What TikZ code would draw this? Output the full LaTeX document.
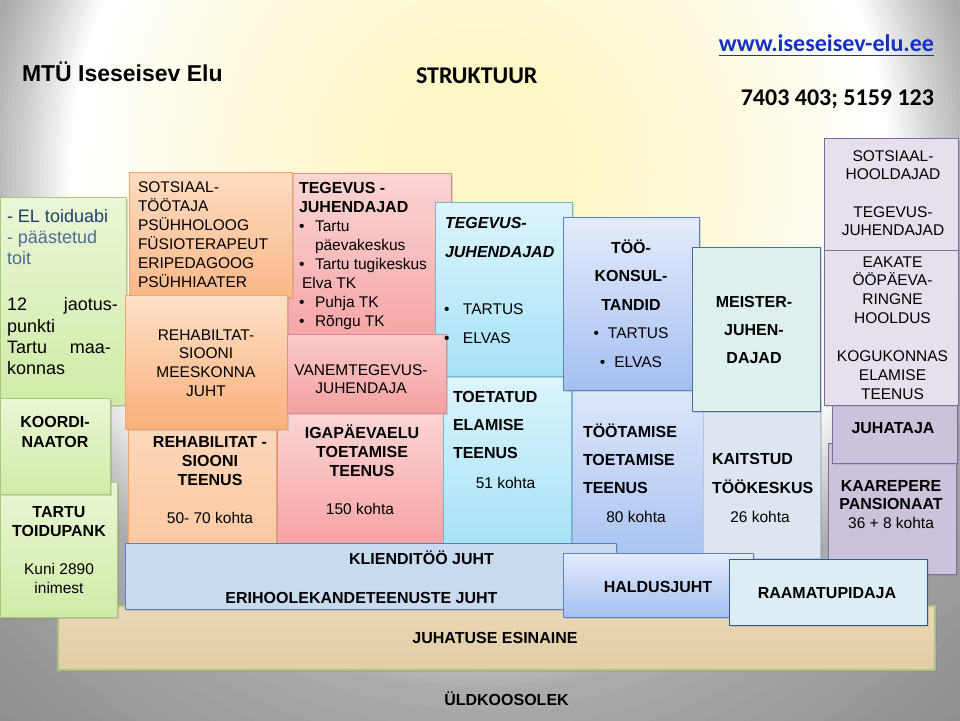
\documentclass[tikz,border=0pt]{standalone}
\usepackage{fontspec}
\setmainfont{Liberation Sans}
\newfontfamily\calfont{Carlito}
\usetikzlibrary{shadows}
% background
\definecolor{bgA}{HTML}{FDF6C6}
\definecolor{bgB}{HTML}{FEFBE2}
\definecolor{bgC}{HTML}{FFFFFF}
\definecolor{bgD}{HTML}{D2D2D2}
\definecolor{bgE}{HTML}{ACACAC}
\definecolor{bgF}{HTML}{8E8E8E}
% box colours
\definecolor{grT}{HTML}{EAF6D6}\definecolor{grBot}{HTML}{D0EBA6}\definecolor{grB}{HTML}{A9C77A}
\definecolor{orT}{HTML}{FDDCC2}\definecolor{orBot}{HTML}{FAB888}\definecolor{orB}{HTML}{F2A56B}
\definecolor{or2T}{HTML}{FDE0C8}\definecolor{or2Bot}{HTML}{F9B07A}
\definecolor{or3T}{HTML}{FDDDC4}\definecolor{or3Bot}{HTML}{FBC9A2}
\definecolor{rdT}{HTML}{FBD5D5}\definecolor{rdBot}{HTML}{F6A3A3}\definecolor{rdB}{HTML}{D88E8C}
\definecolor{rd2T}{HTML}{FBCACA}\definecolor{rd2Bot}{HTML}{F4A0A0}
\definecolor{rd3T}{HTML}{FCDCDC}\definecolor{rd3Bot}{HTML}{F6A2A2}
\definecolor{cyT}{HTML}{DDF4FC}\definecolor{cyBot}{HTML}{A6E2F6}\definecolor{cyB}{HTML}{6DB7D0}
\definecolor{blT}{HTML}{E4EBFB}\definecolor{blBot}{HTML}{A4BFF2}\definecolor{blB}{HTML}{5A83BF}
\definecolor{bl2T}{HTML}{DFE7FA}\definecolor{bl2Bot}{HTML}{ABC4F2}\definecolor{bl2B}{HTML}{8FAEDC}
\definecolor{klF}{HTML}{C8DAF0}\definecolor{klB}{HTML}{5B82B8}
\definecolor{meF}{HTML}{DDF0EE}\definecolor{meB}{HTML}{4A6F96}
\definecolor{kaF}{HTML}{DDE6F0}\definecolor{kaB}{HTML}{B4C6DC}
\definecolor{lv1}{HTML}{E5E0EC}\definecolor{lv2}{HTML}{CDC2DB}\definecolor{lvB}{HTML}{7A6EA3}
\definecolor{raF}{HTML}{DCEEF4}\definecolor{raB}{HTML}{2F5B8C}
\definecolor{beT}{HTML}{EAD8B5}\definecolor{beBot}{HTML}{E2CDA4}\definecolor{beB}{HTML}{A9C47F}
\definecolor{elA}{HTML}{1F3F6E}\definecolor{elB}{HTML}{4A6C96}
\definecolor{urlc}{HTML}{1530C8}
% helpers
\newcommand\fst{\rule{0pt}{15pt}}
\newcommand\bul{\makebox[16pt][l]{\textbullet}}
\newcommand\BX[6]{\node[bx,#6,minimum width={(#4-#2)*1pt},minimum height={(#5-#3)*1pt}] (#1) at (#2,#3) {};}
% concentric ellipses: f start, f end, steps, colour at start, colour at end
\newcommand\ring[5]{%
  \foreach \k in {0,...,#3}{%
    \pgfmathsetmacro\ff{#1+(#2-#1)*\k/#3}%
    \pgfmathsetmacro\pp{100*\k/#3}%
    \fill[#5!\pp!#4] (480,170) ellipse [x radius=\ff*500pt, y radius=\ff*520pt];}}
\tikzset{
  bx/.style={draw, line width=0.9pt, inner sep=0pt, outer sep=0pt, anchor=north west,
    drop shadow={shadow xshift=2pt, shadow yshift=-2pt, opacity=0.28}},
  tx/.style={inner sep=0pt, outer sep=0pt, text=black},
  rg/.style={tx, font=\fontsize{15.5}{19}\selectfont},
  bd/.style={tx, font=\fontsize{16}{19}\selectfont\bfseries},
}
\begin{document}
\begin{tikzpicture}[x=1pt,y=-1pt]
\useasboundingbox (0,0) rectangle (960,720);
\begin{scope}
  \clip (0,0) rectangle (960,720);
  \fill[bgF] (0,0) rectangle (960,720);
  \ring{1.45}{1.0}{12}{bgF}{bgE}
  \ring{1.0}{0.91}{10}{bgE}{bgD}
  \ring{0.91}{0.82}{12}{bgD}{bgC}
  \ring{0.82}{0.56}{12}{bgC}{bgB}
  \ring{0.56}{0.2}{10}{bgB}{bgA}
\end{scope}

% ---------- base ----------
\BX{esinaine}{58}{606}{935}{670}{draw=beB, line width=1.3pt, top color=beT, bottom color=beBot}

% ---------- service columns ----------
\BX{rehabT}{128}{380}{276}{545}{draw=orB, top color=or3T, bottom color=or3Bot}
\BX{igap}{277}{395}{443}{545}{draw=rdB, top color=rd3T, bottom color=rd3Bot}
\BX{toet}{443}{376}{571}{545}{draw=cyB, top color=cyT, bottom color=cyBot}
\BX{tootam}{572}{385}{703}{553}{draw=bl2B, top color=bl2T, bottom color=bl2Bot}
\BX{kaits}{703}{400}{820}{558}{draw=kaB, fill=kaF}
\BX{kaarep}{828}{443}{956}{574}{draw=lvB, fill=lv2}
\BX{juhataja}{832}{405}{957}{463}{draw=lvB, fill=lv2}

% ---------- left green ----------
\BX{el}{0}{197}{126}{405}{draw=grB, top color=grT, bottom color=grBot}
\BX{tartu}{0}{482}{117}{617}{draw=grB, top color=grT, bottom color=grBot}
\BX{koordi}{0}{398}{110}{494}{draw=grB, top color=grT, bottom color=grBot}

% ---------- staff boxes ----------
\BX{tegR}{287}{173}{451}{345}{draw=rdB, top color=rdT, bottom color=rdBot}
\BX{sots}{129}{172}{292}{297}{draw=orB, top color=orT, bottom color=orBot}
\BX{tegB}{435}{202}{572}{376}{draw=cyB, top color=cyT, bottom color=cyBot}
\BX{tookon}{563}{217}{699}{390}{draw=blB, top color=blT, bottom color=blBot}
\BX{meister}{692}{247}{820}{411}{draw=meB, fill=meF}
\BX{sotsH}{824}{138}{958}{252}{draw=lvB, fill=lv1}
\BX{eakate}{824}{250}{958}{405}{draw=lvB, fill=lv1}
\BX{rehabM}{125}{295}{287}{429}{draw=orB, top color=or2T, bottom color=or2Bot}
\BX{vanem}{287}{334}{446}{413}{draw=rdB, top color=rd2T, bottom color=rd2Bot}

% ---------- management ----------
\BX{klient}{125}{543}{616}{609}{draw=klB, fill=klF}
\BX{haldus}{563}{553}{753}{617}{draw=blB, top color=blT, bottom color=blBot}
\BX{raamat}{729}{559}{927}{625}{draw=raB, fill=raF}

% ---------- header ----------
\node[tx, anchor=base west, font=\fontsize{23}{27}\selectfont\bfseries] (title) at (22,81) {MTÜ Iseseisev Elu};
\node[tx, anchor=base west, font=\calfont\fontsize{24}{28}\selectfont\bfseries] (struk) at (416,83) {STRUKTUUR};
\node[tx, anchor=base east, text=urlc, font=\calfont\fontsize{24}{28}\selectfont\bfseries] (url) at (934,51) {www.iseseisev-elu.ee};
\draw[urlc, line width=1.8pt] ([yshift=-4.5pt]url.base west) -- ([yshift=-4.5pt]url.base east);
\node[tx, anchor=base east, font=\calfont\fontsize{24}{28}\selectfont\bfseries] (phone) at (934,105) {7403 403; 5159 123};

% ---------- texts ----------
\node[tx, anchor=north west, align=left, font=\fontsize{18}{21.3}\selectfont] (elT) at (7,207)
  {\fst{\color{elA}- EL toiduabi}\\{\color{elB}- päästetud}\\{\color{elB}toit}\\[25pt]
   \hbox to 111pt{12\hfill jaotus-}\\punkti\\\hbox to 104pt{Tartu\hfill maa-}\\konnas};
\node[bd, anchor=north, align=center, font=\fontsize{16}{20}\selectfont\bfseries] (koordiT) at (55,412) {\fst KOORDI-\\NAATOR};
\node[bd, anchor=north, align=center] (tartuT) at (59,502) {\fst TARTU\\TOIDUPANK};
\node[rg, anchor=north, align=center] (tartuN) at (59,559) {\fst Kuni 2890\\inimest};

\node[rg, anchor=north west, align=left] (sotsT) at (138,177)
  {\fst SOTSIAAL-\\TÖÖTAJA\\PSÜHHOLOOG\\FÜSIOTERAPEUT\\ERIPEDAGOOG\\PSÜHHIAATER};
\node[rg, anchor=north west, align=left] (tegRT) at (299,178)
  {\fst{\fontsize{16}{19}\selectfont\bfseries TEGEVUS -}\\{\fontsize{16}{19}\selectfont\bfseries JUHENDAJAD}\\
   \bul Tartu\\\hspace*{16pt}päevakeskus\\\bul Tartu tugikeskus\\\hspace*{3pt}Elva TK\\\bul Puhja TK\\\bul Rõngu TK};
\node[tx, anchor=north, align=center, font=\fontsize{15.5}{18.7}\selectfont] (rehabMT) at (206,325)
  {\fst REHABILTAT-\\SIOONI\\MEESKONNA\\JUHT};
\node[tx, anchor=north, align=center, font=\fontsize{15.5}{18.5}\selectfont] (vanemT) at (361,360)
  {\fst VANEMTEGEVUS-\\JUHENDAJA};
\node[bd, anchor=north, align=center] (rehabTT) at (210,432) {\fst REHABILITAT -\\SIOONI\\TEENUS};
\node[rg, anchor=base] (rehabTN) at (210,523) {50- 70 kohta};
\node[bd, anchor=north, align=center] (igapT) at (362,423) {\fst IGAPÄEVAELU\\TOETAMISE\\TEENUS};
\node[rg, anchor=base] (igapN) at (360,514) {150 kohta};

\node[tx, anchor=north west, align=left, font=\fontsize{16}{29}\selectfont\bfseries\itshape] (tegBT) at (445,213)
  {\fst TEGEVUS-\\JUHENDAJAD};
\node[tx, anchor=north west, align=left, font=\fontsize{15.5}{29}\selectfont] (tegBL) at (444,299)
  {\fst\makebox[19pt][l]{\textbullet}TARTUS\\\makebox[19pt][l]{\textbullet}ELVAS};
\node[tx, anchor=north west, align=left, font=\fontsize{16}{28}\selectfont\bfseries] (toetT) at (453,387)
  {\fst TOETATUD\\ELAMISE\\TEENUS};
\node[rg, anchor=base] (toetN) at (505.5,488) {51 kohta};

\node[tx, anchor=north, align=center, font=\fontsize{16}{28.5}\selectfont] (tookonT) at (631,238)
  {\fst{\bfseries TÖÖ-}\\{\bfseries KONSUL-}\\{\bfseries TANDID}\\
   {\fontsize{15.5}{28.5}\selectfont\textbullet\hspace{9pt}TARTUS}\\{\fontsize{15.5}{28.5}\selectfont\textbullet\hspace{9pt}ELVAS}};
\node[tx, anchor=north west, align=left, font=\fontsize{16}{28}\selectfont\bfseries] (tootamT) at (583,422)
  {\fst TÖÖTAMISE\\TOETAMISE\\TEENUS};
\node[rg, anchor=base] (tootamN) at (636,522) {80 kohta};

\node[tx, anchor=north, align=center, font=\fontsize{16}{28}\selectfont\bfseries] (meisterT) at (754,292)
  {\fst MEISTER-\\JUHEN-\\DAJAD};
\node[tx, anchor=north west, align=left, font=\fontsize{16}{29}\selectfont\bfseries] (kaitsT) at (712,449)
  {\fst KAITSTUD\\TÖÖKESKUS};
\node[rg, anchor=base] (kaitsN) at (760,522) {26 kohta};

\node[tx, anchor=north, align=center, font=\fontsize{15.5}{18}\selectfont] (sotsHT) at (893,146)
  {\fst SOTSIAAL-\\HOOLDAJAD\\[20pt]TEGEVUS-\\JUHENDAJAD};
\node[tx, anchor=north, align=center, font=\fontsize{15.5}{18.7}\selectfont] (eakateT) at (892.5,252)
  {\fst EAKATE\\ÖÖPÄEVA-\\RINGNE\\HOOLDUS\\[20pt]KOGUKONNAS\\ELAMISE\\TEENUS};
\node[bd, anchor=base] (juhatajaT) at (893,433) {JUHATAJA};
\node[tx, anchor=north, align=center, font=\fontsize{16}{18.5}\selectfont] (kaarepT) at (891,476)
  {\fst{\bfseries KAAREPERE}\\{\bfseries PANSIONAAT}\\{\fontsize{15.5}{18.5}\selectfont 36 + 8 kohta}};

\node[bd, anchor=base] (klientA) at (421.5,564) {KLIENDITÖÖ JUHT};
\node[bd, anchor=base] (klientB) at (361.5,603) {ERIHOOLEKANDETEENUSTE JUHT};
\node[bd, anchor=base] (haldusT) at (658,592) {HALDUSJUHT};
\node[bd, anchor=base] (raamatT) at (827,598) {RAAMATUPIDAJA};
\node[bd, anchor=base] (esinaineT) at (495,643) {JUHATUSE ESINAINE};
\node[bd, anchor=base] (uldT) at (506.5,705) {ÜLDKOOSOLEK};
\end{tikzpicture}
\end{document}
